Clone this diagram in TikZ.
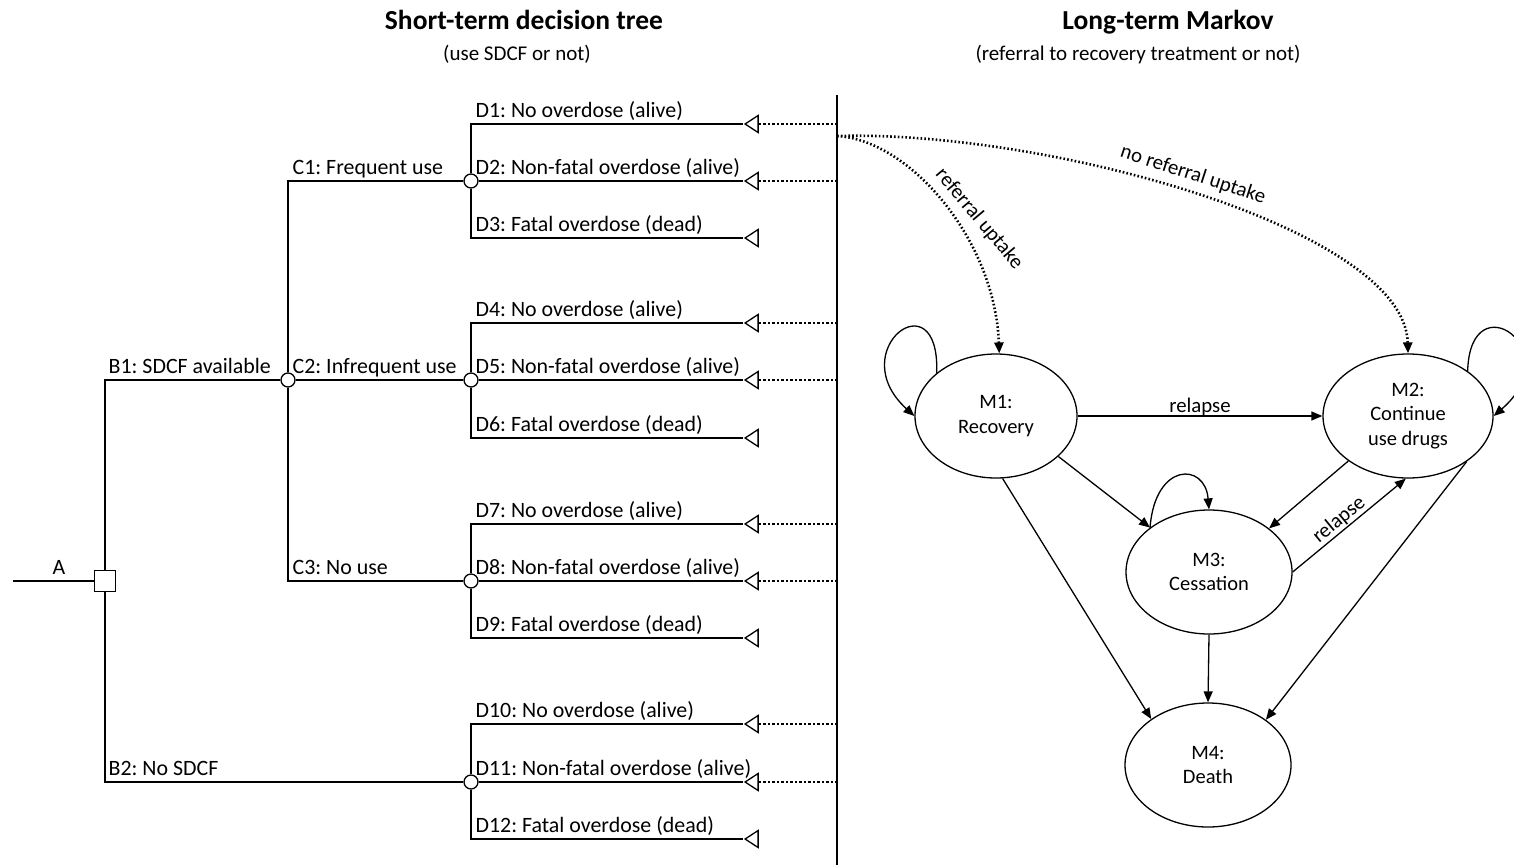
\documentclass[tikz,border=0pt]{standalone}
\usepackage{fontspec}
\setmainfont{Carlito}
\usetikzlibrary{arrows.meta,shapes.geometric}
\frenchspacing

\begin{document}
\begin{tikzpicture}[x=1pt,y=-1pt,line width=1.3pt,
  title/.style={anchor=base, inner sep=0pt, font=\fontsize{27.5}{32}\selectfont\bfseries},
  subtitle/.style={anchor=base, inner sep=0pt, font=\fontsize{21}{25}\selectfont},
  lbl/.style={anchor=base west, inner sep=0pt, font=\fontsize{21.9}{26}\selectfont},
  chance/.style={circle, draw, fill=white, minimum size=14pt, inner sep=0pt},
  decision/.style={rectangle, draw, fill=white, minimum size=20.5pt, inner sep=0pt},
  term/.style={isosceles triangle, isosceles triangle stretches, shape border rotate=180,
    draw, fill=white, minimum width=17pt, minimum height=13pt, inner sep=0pt},
  link/.style={line width=1.2pt, dash pattern=on 2.5pt off 2pt},
  state/.style={ellipse, draw, inner sep=0pt, align=center, font=\fontsize{20.5}{24.5}\selectfont},
  trans/.style={-{Triangle[length=11pt,width=9pt]}},
  refer/.style={trans, line width=2.6pt, dash pattern=on 1.6pt off 2.2pt},
  tlabel/.style={inner sep=0pt, font=\fontsize{20.8}{24.5}\selectfont},
]
\useasboundingbox (0,0) rectangle (1514,865);

% ---------- headings ----------
\node[title] (h1) at (524,29.5) {Short-term decision tree};
\node[subtitle] (s1) at (517,60) {(use SDCF or not)};
\node[title] (h2) at (1168,29.5) {Long-term Markov};
\node[subtitle] (s2) at (1138,60) {(referral to recovery treatment or not)};

% ---------- divider ----------
\coordinate (divtop) at (837,95);
\coordinate (divbot) at (837,865);
\draw (divtop) -- (divbot);

% ---------- decision tree nodes ----------
\coordinate (start) at (13,581);
\node[decision] (dec) at (105,581) {};
\node[chance] (cB1) at (288,380) {};
\node[chance] (cC1) at (471,181) {};
\node[chance] (cC2) at (471,380) {};
\node[chance] (cC3) at (471,581) {};
\node[chance] (cB2) at (471,782) {};

\foreach \i/\y in {1/124,2/181,3/238,4/323,5/380,6/438,7/524,8/581,9/638,10/724,11/782,12/839}
  \node[term] (t\i) at (753.5,\y) {};

% ---------- tree branches ----------
\draw (start) -- (dec.west);
\draw (dec.north) |- (cB1.west);
\draw (dec.south) |- (cB2.west);
\draw (cB1.north) |- (cC1.west);
\draw (cB1.east) -- (cC2.west);
\draw (cB1.south) |- (cC3.west);
\foreach \c/\a/\b/\d in {cC1/t1/t2/t3, cC2/t4/t5/t6, cC3/t7/t8/t9, cB2/t10/t11/t12}{
  \draw (\c.north) |- (\a.apex);
  \draw (\c.east) -- (\b.apex);
  \draw (\c.south) |- (\d.apex);
}

% links from surviving outcomes to the Markov part
\foreach \t in {t1,t2,t4,t5,t7,t8,t10,t11}
  \draw[link] (\t.east) -- (\t.east -| divtop);

% ---------- tree labels ----------
\node[lbl, anchor=base] (lA) at (59,574) {A};
\node[lbl] (lB1) at (108,373) {B1: SDCF available};
\node[lbl] (lB2) at (108,775) {B2: No SDCF};
\node[lbl] (lC1) at (292,174) {C1: Frequent use};
\node[lbl] (lC2) at (292,373) {C2: Infrequent use};
\node[lbl] (lC3) at (292,574) {C3: No use};
\node[lbl] (lD1) at (475,117) {D1: No overdose (alive)};
\node[lbl] (lD2) at (475,174) {D2: Non-fatal overdose (alive)};
\node[lbl] (lD3) at (475,231) {D3: Fatal overdose (dead)};
\node[lbl] (lD4) at (475,316) {D4: No overdose (alive)};
\node[lbl] (lD5) at (475,373) {D5: Non-fatal overdose (alive)};
\node[lbl] (lD6) at (475,431) {D6: Fatal overdose (dead)};
\node[lbl] (lD7) at (475,517) {D7: No overdose (alive)};
\node[lbl] (lD8) at (475,574) {D8: Non-fatal overdose (alive)};
\node[lbl] (lD9) at (475,631) {D9: Fatal overdose (dead)};
\node[lbl] (lD10) at (475,717) {D10: No overdose (alive)};
\node[lbl] (lD11) at (475,775) {D11: Non-fatal overdose (alive)};
\node[lbl] (lD12) at (475,832) {D12: Fatal overdose (dead)};

% ---------- Markov states ----------
\node[state, minimum width=162pt, minimum height=124pt] (M1) at (996,416) {M1:\\Recovery};
\node[state, minimum width=170pt, minimum height=124pt] (M2) at (1408,416) {M2:\\Continue\\use drugs};
\node[state, minimum width=166pt, minimum height=124pt] (M3) at (1209,572) {M3:\\Cessation};
\node[state, minimum width=166pt, minimum height=124pt] (M4) at (1208,765) {M4:\\Death};

% ---------- transitions ----------
\draw[trans] (M1.east) -- node[tlabel, anchor=base, yshift=4pt] {relapse} (M2.west);
\draw[trans] (M1.-33) -- (M3.143);
\draw[trans] (M2.-143) -- (M3.36);
\draw[trans] (M3.east) -- node[tlabel, sloped, above=1pt, pos=0.47] {relapse} (M2.-92);
\draw[trans] (M1.-84) -- (M4.141);
\draw[trans] (M3.south) -- (M4.north);
\draw[trans] (M2.-38) -- (M4.38);

% self transitions
\draw[trans] (M1.144) .. controls (940,276) and (842,350) .. (M1.west);
\draw[trans] (M2.37) .. controls (1470,280) and (1570,350) .. (M2.east);
\draw[trans] (M3.143) .. controls (1155,462) and (1205,462) .. (M3.north);

% entry into the Markov model
\coordinate (fork) at (837,136);
\draw[refer] (fork) .. controls (910,140) and (995,240) .. (M1.87);
\draw[refer] (fork) .. controls (1050,130) and (1405,230) .. (M2.north);
\node[tlabel, rotate=-50] (lref) at (979,219) {referral uptake};
\node[tlabel, rotate=-18] (lnoref) at (1193,175) {no referral uptake};
\end{tikzpicture}
\end{document}
